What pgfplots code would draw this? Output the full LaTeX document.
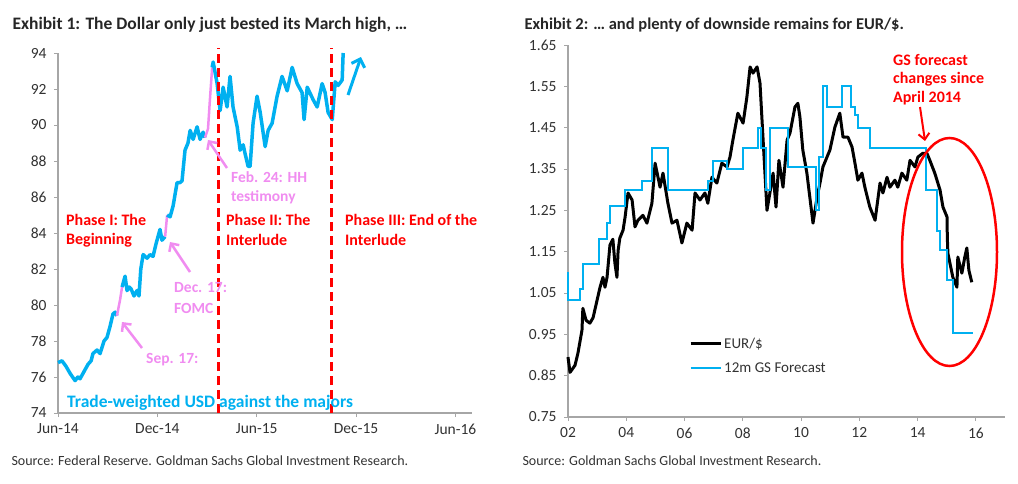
\documentclass[border=0pt]{standalone}
\usepackage{fontspec}
\setmainfont{Carlito}
\usepackage{pgfplots}
\pgfplotsset{compat=1.18}
\usetikzlibrary{arrows.meta}
\definecolor{usdblue}{RGB}{0,176,240}
\definecolor{pinkann}{RGB}{240,140,240}
\definecolor{axgray}{RGB}{166,166,166}
\definecolor{txt}{RGB}{50,50,50}
\begin{document}
\begin{tikzpicture}
\path[use as bounding box] (0pt,0pt) rectangle (1018pt,483pt);
% ---------------- Left chart ----------------
\begin{axis}[
  at={(58pt,70pt)}, anchor=south west,
  width=414pt, height=360pt, scale only axis,
  xmin=0, xmax=25, ymin=74, ymax=94,
  axis lines*=left,
  axis line style={axgray, line width=1.2pt},
  xtick={0,6,12,18,24}, xticklabels={Jun-14,Dec-14,Jun-15,Dec-15,Jun-16},
  ytick={74,76,...,94},
  tick style={axgray, line width=1pt},
  tick align=outside, major tick length=4pt,
  ticklabel style={font=\fontsize{15.5}{18}\selectfont, text=txt},
  yticklabel style={xshift=-4pt},
  xticklabel style={yshift=-3pt},
  /pgf/number format/assume math mode=true,
  clip=false,
]
\addplot[usdblue, line width=3.5pt, line join=round] coordinates {
(0,76.8)(0.24,76.9)(0.48,76.6)(0.73,76.2)(1.03,75.8)(1.2,76.0)(1.33,75.9)(1.63,76.4)(1.81,76.7)(2.0,76.9)(2.11,77.3)(2.36,77.5)(2.54,77.3)(2.78,78.0)(2.96,78.2)(3.14,78.8)(3.32,79.5)(3.45,79.6)(3.56,79.4)};
\addplot[pinkann, line width=2.5pt] coordinates {(3.56,79.4)(3.75,80.3)(3.87,81.0)};
\addplot[usdblue, line width=3.5pt, line join=round] coordinates {
(3.87,81.0)(4.05,81.6)(4.17,80.8)(4.3,81.0)(4.41,80.9)(4.59,80.5)(4.77,80.8)(4.89,80.5)(5.0,82.0)(5.14,82.8)(5.38,82.6)(5.56,82.8)(5.74,82.7)(5.92,83.4)(6.16,84.2)(6.28,83.6)(6.47,83.8)};
\addplot[pinkann, line width=2.5pt] coordinates {(6.47,83.8)(6.59,85.0)};
\addplot[usdblue, line width=3.5pt, line join=round] coordinates {
(6.59,85.0)(6.77,84.9)(6.95,85.5)(7.19,86.8)(7.37,86.8)(7.49,86.9)(7.67,88.6)(7.85,89.0)(7.98,89.7)(8.16,89.2)(8.40,89.9)(8.58,89.2)(8.76,89.6)(8.88,89.3)};
\addplot[pinkann, line width=2.5pt] coordinates {(8.88,89.3)(9.06,89.8)(9.18,91.5)(9.31,93.2)};
\addplot[usdblue, line width=3.5pt, line join=round] coordinates {
(9.31,93.2)(9.37,93.5)(9.61,92.3)(9.79,90.8)(9.97,92.1)(10.21,91.0)(10.39,92.7)(10.57,91.0)(10.82,89.9)(11.0,88.6)(11.18,88.9)(11.3,88.4)(11.48,87.7)(11.6,87.7)(11.78,90.1)(12.02,91.6)(12.21,90.7)(12.51,88.8)(12.69,89.7)(12.93,90.1)(13.23,91.6)(13.53,92.7)(13.84,91.9)(14.14,93.2)(14.44,92.3)(14.74,91.8)(14.86,90.3)(15.05,92.1)(15.41,91.4)(15.65,91.0)(15.95,92.3)(16.13,91.8)(16.31,90.7)(16.56,90.3)(16.74,92.4)(16.92,92.2)(17.16,92.5)(17.22,94.0)};
\addplot[red, line width=3pt, dash pattern=on 9pt off 5pt] coordinates {(9.67,74)(9.67,94.3)};
\addplot[red, line width=3pt, dash pattern=on 9pt off 5pt] coordinates {(16.5,74)(16.5,94.3)};
\end{axis}
% ---------------- Right chart ----------------
\begin{axis}[
  at={(568pt,66pt)}, anchor=south west,
  width=437pt, height=372pt, scale only axis,
  xmin=2, xmax=17, ymin=0.75, ymax=1.65,
  axis lines*=left,
  axis line style={axgray, line width=1.2pt},
  xtick={2,4,...,16}, xticklabels={02,04,06,08,10,12,14,16},
  ytick={0.75,0.85,...,1.66},
  yticklabel={\pgfmathprintnumber[fixed,fixed zerofill,precision=2]{\tick}},
  tick style={axgray, line width=1pt},
  tick align=outside, major tick length=4pt,
  ticklabel style={font=\fontsize{15.5}{18}\selectfont, text=txt},
  yticklabel style={xshift=-4pt},
  xticklabel style={yshift=-3pt},
  /pgf/number format/assume math mode=true,
  clip=false,
  legend style={at={(0.27,0.224)}, anchor=north west, draw=none, fill=none,
    font=\fontsize{15}{18}\selectfont, text=txt, row sep=9pt},
  legend cell align=left,
  legend image code/.code={\draw[#1] (0pt,0pt) -- (30pt,0pt);},
]
\addplot[black, line width=3pt, line join=round] coordinates {
(2.00,0.895)(2.07,0.858)(2.24,0.875)(2.34,0.904)(2.48,0.96)(2.51,1.013)(2.62,0.984)(2.75,0.977)(2.86,0.99)(3.10,1.064)(3.20,1.088)(3.27,1.064)(3.34,1.088)(3.44,1.166)(3.54,1.18)(3.61,1.122)(3.68,1.088)(3.72,1.153)(3.78,1.183)(3.89,1.202)(3.96,1.234)(4.06,1.292)(4.20,1.275)(4.30,1.21)(4.40,1.226)(4.57,1.238)(4.71,1.219)(4.88,1.267)(4.99,1.364)(5.16,1.306)(5.26,1.34)(5.43,1.267)(5.57,1.219)(5.74,1.226)(5.91,1.171)(6.08,1.219)(6.26,1.202)(6.36,1.292)(6.53,1.275)(6.70,1.292)(6.80,1.267)(6.94,1.33)(7.11,1.316)(7.28,1.364)(7.46,1.355)(7.56,1.379)(7.66,1.42)(7.83,1.485)(8.01,1.461)(8.14,1.524)(8.25,1.597)(8.35,1.582)(8.49,1.597)(8.59,1.558)(8.66,1.468)(8.76,1.34)(8.83,1.25)(8.93,1.292)(9.04,1.34)(9.14,1.258)(9.24,1.371)(9.38,1.306)(9.52,1.42)(9.62,1.437)(9.79,1.5)(9.89,1.509)(9.96,1.476)(10.06,1.396)(10.20,1.34)(10.30,1.282)(10.41,1.219)(10.55,1.282)(10.65,1.316)(10.75,1.355)(10.99,1.396)(11.16,1.451)(11.33,1.485)(11.44,1.427)(11.61,1.427)(11.75,1.403)(11.85,1.364)(11.95,1.323)(12.09,1.34)(12.19,1.306)(12.36,1.258)(12.54,1.226)(12.71,1.316)(12.81,1.292)(12.95,1.33)(13.05,1.306)(13.22,1.323)(13.32,1.306)(13.46,1.34)(13.63,1.323)(13.74,1.371)(13.91,1.355)(14.01,1.379)(14.18,1.388)(14.32,1.388)(14.42,1.371)(14.59,1.34)(14.77,1.299)(14.87,1.258)(15.01,1.234)(15.02,1.185)(15.04,1.146)(15.11,1.122)(15.21,1.088)(15.35,1.064)(15.38,1.137)(15.52,1.098)(15.62,1.137)(15.69,1.159)(15.76,1.105)(15.86,1.076)};
\addlegendentry{EUR/\$}
\addplot[usdblue, line width=2pt] coordinates {
(2.00,1.10)(2.00,1.033)(2.41,1.033)(2.41,1.06)(2.51,1.06)(2.51,1.12)(3.07,1.12)(3.07,1.18)(3.34,1.18)(3.34,1.22)(3.44,1.22)(3.44,1.26)(3.96,1.26)(3.96,1.30)(4.54,1.30)(4.54,1.32)(4.88,1.32)(4.88,1.40)(5.43,1.40)(5.43,1.30)(6.80,1.30)(6.80,1.32)(6.97,1.32)(6.97,1.37)(7.46,1.37)(7.46,1.35)(8.01,1.35)(8.01,1.40)(8.52,1.40)(8.52,1.45)(8.62,1.45)(8.62,1.40)(8.80,1.40)(8.80,1.30)(8.93,1.30)(8.93,1.45)(9.55,1.45)(9.55,1.355)(10.52,1.355)(10.52,1.25)(10.60,1.25)(10.60,1.38)(10.75,1.38)(10.75,1.55)(10.90,1.55)(10.90,1.50)(11.40,1.50)(11.40,1.55)(11.70,1.55)(11.70,1.50)(11.85,1.50)(11.85,1.48)(11.95,1.48)(11.95,1.45)(12.36,1.45)(12.36,1.40)(14.28,1.40)(14.28,1.30)(14.67,1.30)(14.67,1.20)(14.77,1.20)(14.77,1.154)(15.00,1.154)(15.00,1.081)(15.21,1.081)(15.21,0.953)(15.90,0.953)};
\addlegendentry{12m GS Forecast}
\end{axis}
% ---------------- Annotations ----------------
\node[anchor=west, font=\bfseries\fontsize{17.5}{20}\selectfont, text=black!85] at (9pt,458pt) {Exhibit 1: The Dollar only just bested its March high, \ldots};
\node[anchor=west, font=\bfseries\fontsize{16.5}{19}\selectfont, text=black!85] at (521pt,458pt) {Exhibit 2: \ldots\ and plenty of downside remains for EUR/\$.};
\node[anchor=west, font=\fontsize{14}{16}\selectfont, text=txt] at (8pt,22pt) {Source: Federal Reserve. Goldman Sachs Global Investment Research.};
\node[anchor=west, font=\fontsize{14}{16}\selectfont, text=txt] at (519pt,22pt) {Source: Goldman Sachs Global Investment Research.};
\begin{scope}[every node/.style={anchor=west, font=\bfseries\fontsize{16}{19}\selectfont, text=red, inner sep=0pt}]
\node at (66pt,263pt) {Phase I: The};
\node at (66pt,243pt) {Beginning};
\node at (226pt,263pt) {Phase II: The};
\node at (226pt,243pt) {Interlude};
\node at (345pt,263pt) {Phase III: End of the};
\node at (345pt,243pt) {Interlude};
\node at (893pt,423pt) {GS forecast};
\node at (893pt,404pt) {changes since};
\node at (893pt,385pt) {April 2014};
\end{scope}
\begin{scope}[every node/.style={anchor=west, font=\bfseries\fontsize{15.5}{19}\selectfont, text=pinkann, inner sep=0pt}]
\node at (146pt,123pt) {Sep. 17:};
\node at (174pt,195pt) {Dec. 17:};
\node at (174pt,175pt) {FOMC};
\node at (231pt,306pt) {Feb. 24: HH};
\node at (231pt,286pt) {testimony};
\end{scope}
\node[anchor=west, inner sep=0pt, font=\bfseries\fontsize{17.5}{20}\selectfont, text=usdblue] at (67pt,80pt) {Trade-weighted USD against the majors};
\draw[pinkann, line width=2.5pt, -{Straight Barb[length=6pt,width=12pt]}] (142pt,135pt) -- (122pt,161pt);
\draw[pinkann, line width=2.5pt, -{Straight Barb[length=6pt,width=12pt]}] (190pt,211pt) -- (170pt,241pt);
\draw[pinkann, line width=2.5pt, -{Straight Barb[length=6pt,width=12pt]}] (227pt,315pt) -- (208pt,343pt);
\draw[usdblue, line width=3pt, -{Straight Barb[length=7pt,width=14pt]}] (348pt,388pt) -- (361pt,426pt);
\draw[red, line width=2pt, -{Straight Barb[length=6pt,width=11pt]}] (920pt,376pt) -- (925pt,342pt);
\draw[red, line width=2.5pt] (949.5pt,231pt) ellipse [x radius=47.5pt, y radius=114pt];
\end{tikzpicture}
\end{document}
